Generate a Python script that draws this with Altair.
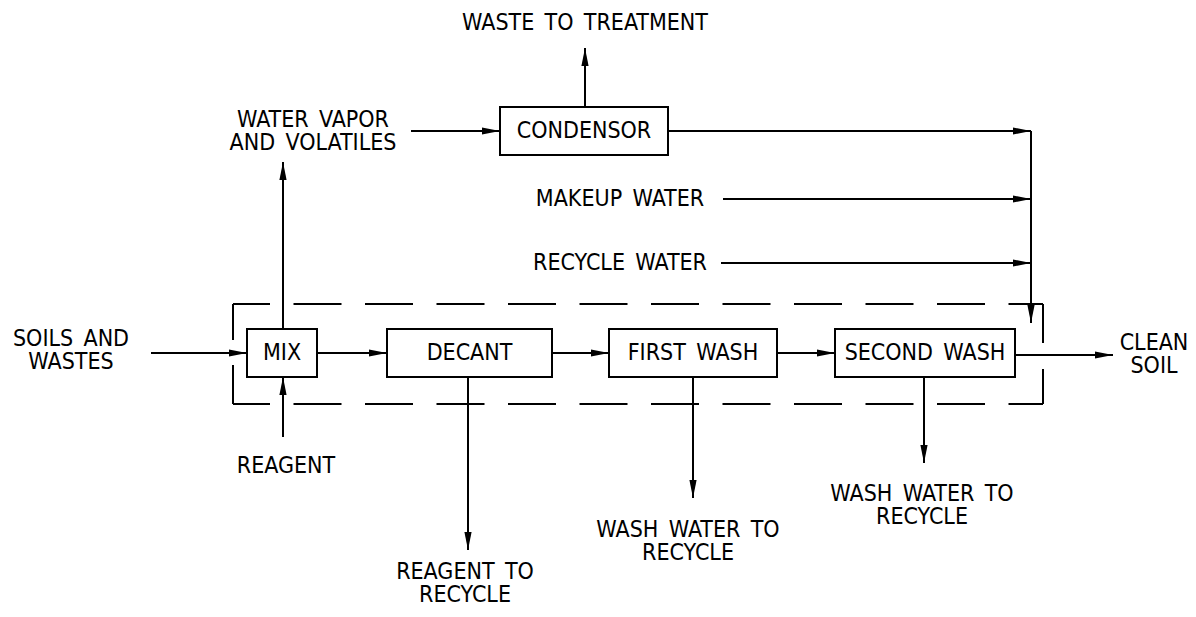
import altair as alt
import pandas as pd

FONT = "Liberation Sans Narrow, DejaVu Sans Condensed, Roboto, sans-serif"
SP = "\u2002"

# ---- process boxes ----
box_labels = ["CONDENSOR", "MIX", "DECANT", "FIRST" + SP + "WASH", "SECOND" + SP + "WASH"]
box_x0 = [500, 247, 387, 609, 835]
box_x1 = [668, 317, 552, 777, 1015]
box_y0 = [107, 329, 329, 329, 329]
box_y1 = [155, 377, 377, 377, 377]

# ---- flow lines (start -> end); arrow = arrowhead at end ----
seg_x0 = [151, 317, 552, 777, 1015, 283, 283, 468, 693, 924, 411, 585, 668, 723, 721, 1031]
seg_y0 = [353, 353, 353, 353, 355, 329, 437, 377, 377, 377, 131, 107, 131, 199, 263, 131]
seg_x1 = [247, 387, 609, 835, 1113, 283, 283, 468, 693, 924, 500, 585, 1031, 1031, 1031, 1031]
seg_y1 = [353, 353, 353, 353, 355, 162, 377, 550, 498, 463, 131, 48, 131, 199, 263, 323]
seg_arrow = [True] * 16

# ---- dashed envelope ----
env_x0 = [233, 233, 233, 233, 1043, 1043]
env_y0 = [304, 404, 304, 365, 304, 369]
env_x1 = [1043, 1043, 233, 233, 1043, 1043]
env_y1 = [304, 404, 340, 404, 343, 404]
env_dashed = [True, True, False, False, False, False]

# ---- free labels (two-line labels wrap on \n; y = first line) ----
lab_text = [
    "WASTE" + SP + "TO" + SP + "TREATMENT",
    "WATER" + SP + "VAPOR\nAND" + SP + "VOLATILES",
    "MAKEUP" + SP + "WATER",
    "RECYCLE" + SP + "WATER",
    "SOILS" + SP + "AND\nWASTES",
    "CLEAN\nSOIL",
    "REAGENT",
    "REAGENT" + SP + "TO\nRECYCLE",
    "WASH" + SP + "WATER" + SP + "TO\nRECYCLE",
    "WASH" + SP + "WATER" + SP + "TO\nRECYCLE",
]
lab_x = [585, 313, 620, 620, 71, 1154, 286, 465, 688, 922]
lab_y = [23, 120, 199, 263, 339, 343, 466, 572, 530, 494]

boxes = pd.DataFrame({"label": box_labels, "x": box_x0, "x2": box_x1, "y": box_y0, "y2": box_y1})
boxes["cx"] = (boxes["x"] + boxes["x2"]) / 2
boxes["cy"] = (boxes["y"] + boxes["y2"]) / 2

segs = pd.DataFrame({"x": seg_x0, "y": seg_y0, "x2": seg_x1, "y2": seg_y1, "arrow": seg_arrow})


def ang(r):
    dx, dy = r["x2"] - r["x"], r["y2"] - r["y"]
    if abs(dx) >= abs(dy):
        return 0 if dx > 0 else 180
    return 90 if dy > 0 else 270


segs["angle"] = segs.apply(ang, axis=1)
heads = segs[segs["arrow"]][["x2", "y2", "angle"]].rename(columns={"x2": "x", "y2": "y"})

env = pd.DataFrame({"x": env_x0, "y": env_y0, "x2": env_x1, "y2": env_y1, "dashed": env_dashed})
labels = pd.DataFrame({"text": lab_text, "x": lab_x, "y": lab_y})

XS = alt.Scale(domain=[8, 1188], nice=False, zero=False)
YS = alt.Scale(domain=[8, 609], reverse=True, nice=False, zero=False)
X = alt.X("x:Q", scale=XS, axis=None)
Y = alt.Y("y:Q", scale=YS, axis=None)

lines = alt.Chart(segs).mark_rule(color="black", strokeWidth=2).encode(x=X, y=Y, x2="x2:Q", y2="y2:Q")

dash_lines = alt.Chart(env[env["dashed"]]).mark_rule(
    color="black", strokeWidth=2, strokeDash=[48, 23.5], strokeDashOffset=11
).encode(x=X, y=Y, x2="x2:Q", y2="y2:Q")

solid_env = alt.Chart(env[~env["dashed"]]).mark_rule(color="black", strokeWidth=2).encode(
    x=X, y=Y, x2="x2:Q", y2="y2:Q"
)

rects = alt.Chart(boxes).mark_rect(fill="white", stroke="black", strokeWidth=2).encode(
    x=X, y=Y, x2="x2:Q", y2="y2:Q"
)

box_text = alt.Chart(boxes).mark_text(
    font=FONT, fontSize=23, color="black", align="center", baseline="middle"
).encode(
    x=alt.X("cx:Q", scale=XS, axis=None),
    y=alt.Y("cy:Q", scale=YS, axis=None),
    text="label:N",
)

arrowheads = alt.Chart(heads).mark_point(
    shape="M0,0L-2,-0.4L-2,0.4Z", filled=True, color="black", opacity=1, size=324, strokeWidth=0
).encode(x=X, y=Y, angle=alt.Angle("angle:Q", scale=None))

texts = alt.Chart(labels).mark_text(
    font=FONT, fontSize=23, color="black", align="center", baseline="middle",
    lineBreak="\n", lineHeight=23,
).encode(x=X, y=Y, text="text:N")

chart = alt.layer(lines, dash_lines, solid_env, rects, box_text, arrowheads, texts).properties(
    width=1180, height=601, autosize=alt.AutoSizeParams(type="none"), padding=0,
    background="white",
).configure_view(stroke=None)

chart.save("out.html", embed_options={"renderer": "svg", "actions": False})
